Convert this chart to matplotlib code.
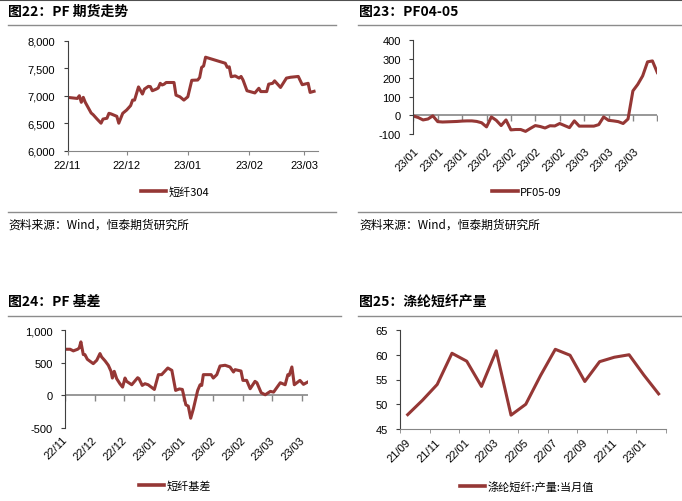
import numpy as np
import pandas as pd
import matplotlib
matplotlib.use('Agg')
import matplotlib.pyplot as plt
import matplotlib.ticker as mticker
from matplotlib.transforms import ScaledTranslation

plt.rcParams['font.family'] = ['Liberation Sans', 'Noto Sans CJK SC', 'DejaVu Sans']
plt.rcParams['axes.unicode_minus'] = False

W, H = 682, 502
RED = '#953735'
GRAY = '#868686'
CJK = ['Noto Sans CJK SC', 'DejaVu Sans']

# 图22 PF期货走势 (days since 2022-11-01)
pf_start = pd.Timestamp('2022-11-01')
pf_days = [0, 5, 6, 7, 8, 9, 12, 13, 15, 17, 18, 20, 21, 22, 25, 26, 28, 30, 32, 33,
           34, 36, 38, 39, 41, 42, 43, 45, 46, 47, 48, 49, 50, 54, 55, 57, 59, 61, 63, 66,
           67, 68, 69, 70, 80, 81, 82, 83, 85, 87, 88, 89, 91, 94, 95, 97, 98, 101, 102, 104,
           105, 108, 111, 113, 117, 119, 122, 123, 125]
pf_vals = [6970, 6950, 7000, 6880, 6970, 6880, 6685, 6655, 6575, 6500, 6575, 6590, 6680, 6670, 6625, 6500, 6680, 6740, 6820, 6920,
           6920, 7160, 7030, 7120, 7170, 7165, 7090, 7120, 7140, 7225, 7195, 7210, 7240, 7240, 7010, 6980, 6920, 6980, 7280, 7285,
           7330, 7515, 7540, 7700, 7590, 7515, 7525, 7345, 7360, 7320, 7350, 7285, 7090, 7060, 7050, 7135, 7075, 7075, 7210, 7225,
           7270, 7150, 7320, 7335, 7350, 7200, 7225, 7060, 7080]
pf_tick_dates = ['2022-11-01', '2022-12-01', '2023-01-01', '2023-02-01', '2023-03-01']
pf_tick_labels = ['22/11', '22/12', '23/01', '23/02', '23/03']

# 图23 PF05-09
spread_vals = [-4, -12, -25, -20, -3, -34, -36, -35, -34, -33, -31, -30, -30, -33, -40, -62, -9, -27, -55, -25,
               -78, -76, -76, -86, -70, -55, -60, -68, -56, -57, -44, -55, -66, -30, -58, -58, -58, -58, -50, -9,
               -27, -30, -34, -44, -20, 130, 165, 210, 285, 290, 228]
spread_labels = ['23/01', '23/01', '23/01', '23/02', '23/02', '23/02', '23/02', '23/03', '23/03', '23/03']

# 图24 PF基差 (trading-day position)
basis_x = [0, 1.9, 3.1, 4.7, 5.3, 5.9, 6.8, 7.4, 8.3, 10.5, 11.8, 13, 13.6, 14.9, 16.1, 17.1, 17.6, 18.3, 19.2, 20.4,
           21.4, 22.3, 22.9, 24.8, 27, 27.5, 28.7, 29.7, 30.9, 33.2, 34.7, 35.9, 38.2, 39.7, 41.1, 42.5, 43.6, 44.9, 45.8, 46.7,
           47.7, 49.3, 50.2, 50.8, 51.4, 54.3, 55.1, 56.4, 57.6, 59.5, 61.3, 62.6, 63.2, 65.4, 66.1, 67.5, 68.8, 70.6, 71.3, 72.9,
           74.4, 76.3, 77.5, 80, 81.8, 82.8, 83.3, 84.3, 85.2, 87.3, 88.6, 90.2]
basis_vals = [709, 709, 684, 709, 730, 822, 627, 627, 555, 488, 540, 643, 591, 530, 463, 370, 267, 370, 257, 180,
              128, 267, 216, 164, 272, 257, 154, 180, 164, 92, 319, 319, 421, 385, 77, 100, 92, -144, -164, -350,
              -206, 77, 164, 154, 319, 319, 267, 319, 452, 463, 437, 360, 396, 375, 231, 231, 103, 216, 195, 41,
              10, 62, 51, 195, 164, 319, 308, 437, 164, 231, 170, 206]
basis_labels = ['22/11', '22/12', '22/12', '23/01', '23/01', '23/02', '23/02', '23/03', '23/03']

# 图25 涤纶短纤产量
prod_months = ['21/09', '21/10', '21/11', '21/12', '22/01', '22/02', '22/03', '22/04', '22/05', '22/06',
               '22/07', '22/08', '22/09', '22/10', '22/11', '22/12', '23/01', '23/02']
prod_vals = [47.9, 50.8, 54.0, 60.3, 58.7, 53.6, 60.8, 47.8, 50.0, 55.8,
             61.1, 59.9, 54.6, 58.6, 59.5, 60.0, 55.9, 52.1]

fig = plt.figure(figsize=(W / 100, H / 100), dpi=100)

# background for rules & captions (pixel coords)
bg = fig.add_axes([0, 0, 1, 1], zorder=-1)
bg.set_xlim(0, W)
bg.set_ylim(H, 0)
bg.axis('off')
bg.plot([0, W], [0.6, 0.6], color='#505050', lw=1.5)
for x0, x1, y in [(8, 336, 26), (358, W, 26), (8, 336, 212.5), (358, W, 212.5), (8, 341, 316.5), (358, W, 316.5)]:
    bg.plot([x0, x1], [y, y], color='#8c8c8c', lw=1)
titles = [(8, 12, '图22：PF 期货走势'), (359, 12, '图23：PF04-05'),
          (8, 302, '图24：PF 基差'), (359, 302, '图25：涤纶短纤产量')]
for x, y, t in titles:
    bg.text(x, y, t, fontsize=10, fontweight='bold', family=CJK, va='center', ha='left')
for x in (8, 359):
    bg.text(x, 225, '资料来源：Wind，恒泰期货研究所', fontsize=8.5, family=CJK, va='center', ha='left')


def axes_px(l, t, r, b):
    return fig.add_axes([l / W, 1 - b / H, (r - l) / W, (b - t) / H])


def style(ax):
    for s in ('top', 'right'):
        ax.spines[s].set_visible(False)
    ax.spines['left'].set_color('#404040')
    ax.spines['bottom'].set_color(GRAY)
    ax.tick_params(axis='y', direction='out', length=3, width=0.8, color='#404040', labelsize=8, pad=6)
    ax.tick_params(axis='x', labelsize=8)


def legend(ax, label, cx, cy):
    ax.legend([plt.Line2D([], [], color=RED, lw=2.6)], [label], loc='center',
              bbox_to_anchor=(cx / W, 1 - cy / H), bbox_transform=fig.transFigure,
              frameon=False, handlelength=2.3, handletextpad=0.2, prop={'family': CJK, 'size': 8})


def rotate_labels(ax, dx):
    plt.setp(ax.get_xticklabels(), rotation=45, ha='right', va='center', rotation_mode='anchor')
    for lab in ax.get_xticklabels():
        lab.set_transform(lab.get_transform() + ScaledTranslation(dx / 100, 0, fig.dpi_scale_trans))


# ---- 图22
ax1 = axes_px(67.5, 41.7, 318, 151.7)
style(ax1)
pf_dates = pf_start + pd.to_timedelta(pf_days, unit='D')
ax1.plot(pf_dates, pf_vals, color=RED, lw=2.2)
ax1.set_xlim(pf_start, pf_start + pd.Timedelta(days=127))
ax1.set_ylim(6000, 8000)
ax1.set_yticks(np.arange(6000, 8001, 500))
ax1.yaxis.set_major_formatter(mticker.StrMethodFormatter('{x:,.0f}'))
ax1.set_xticks(pd.to_datetime(pf_tick_dates))
ax1.set_xticklabels(pf_tick_labels)
ax1.tick_params(axis='x', direction='out', length=3, color=GRAY, pad=4)
legend(ax1, '短纤304', 175, 193)

# ---- 图23
ax2 = axes_px(413.3, 41.3, 657.3, 135)
style(ax2)
ax2.spines['bottom'].set_visible(False)
sx = np.arange(len(spread_vals))
ax2.axhline(0, color=GRAY, lw=1.2, zorder=1)
ax2.plot(np.arange(0, 51, 5), np.zeros(11), ls='none', marker=3, ms=4, mew=1, color=GRAY, zorder=1)
ax2.plot(sx, spread_vals, color=RED, lw=2.2, zorder=2)
ax2.set_xlim(0, 50)
ax2.set_ylim(-100, 400)
ax2.set_yticks(np.arange(-100, 401, 100))
ax2.set_xticks(np.arange(0, 50, 5))
ax2.set_xticklabels(spread_labels)
ax2.tick_params(axis='x', length=0, pad=11)
rotate_labels(ax2, 4)
legend(ax2, 'PF05-09', 527, 193)

# ---- 图24
ax3 = axes_px(65, 331.3, 308.3, 429)
style(ax3)
ax3.spines['bottom'].set_visible(False)
ax3.axhline(0, color=GRAY, lw=1.2, zorder=1)
ax3.plot(np.arange(0, 89, 11), np.zeros(9), ls='none', marker=3, ms=4, mew=1, color=GRAY, zorder=1)
ax3.plot(basis_x, basis_vals, color=RED, lw=2.2, zorder=2)
ax3.set_xlim(0, 90.4)
ax3.set_ylim(-500, 1000)
ax3.set_yticks(np.arange(-500, 1001, 500))
ax3.yaxis.set_major_formatter(mticker.StrMethodFormatter('{x:,.0f}'))
ax3.set_xticks(np.arange(0, 89, 11))
ax3.set_xticklabels(basis_labels)
ax3.tick_params(axis='x', length=0, pad=7)
rotate_labels(ax3, 1)
legend(ax3, '短纤基差', 175, 487)

# ---- 图25
ax4 = axes_px(400.3, 331, 666, 430)
style(ax4)
px = np.arange(len(prod_vals))
ax4.plot(px, prod_vals, color=RED, lw=2.2)
ax4.set_xlim(-0.5, len(prod_vals) - 0.5)
ax4.set_ylim(45, 65)
ax4.set_yticks(np.arange(45, 66, 5))
ax4.set_xticks(np.arange(-0.5, len(prod_vals), 2), minor=True)
ax4.set_xticks(px[::2])
ax4.set_xticklabels(prod_months[::2])
ax4.tick_params(axis='x', which='minor', direction='out', length=3, color=GRAY)
ax4.tick_params(axis='x', which='major', length=0, pad=8)
rotate_labels(ax4, 1)
legend(ax4, '涤纶短纤:产量:当月值', 527, 487)

fig.savefig('out.png', dpi=100)
